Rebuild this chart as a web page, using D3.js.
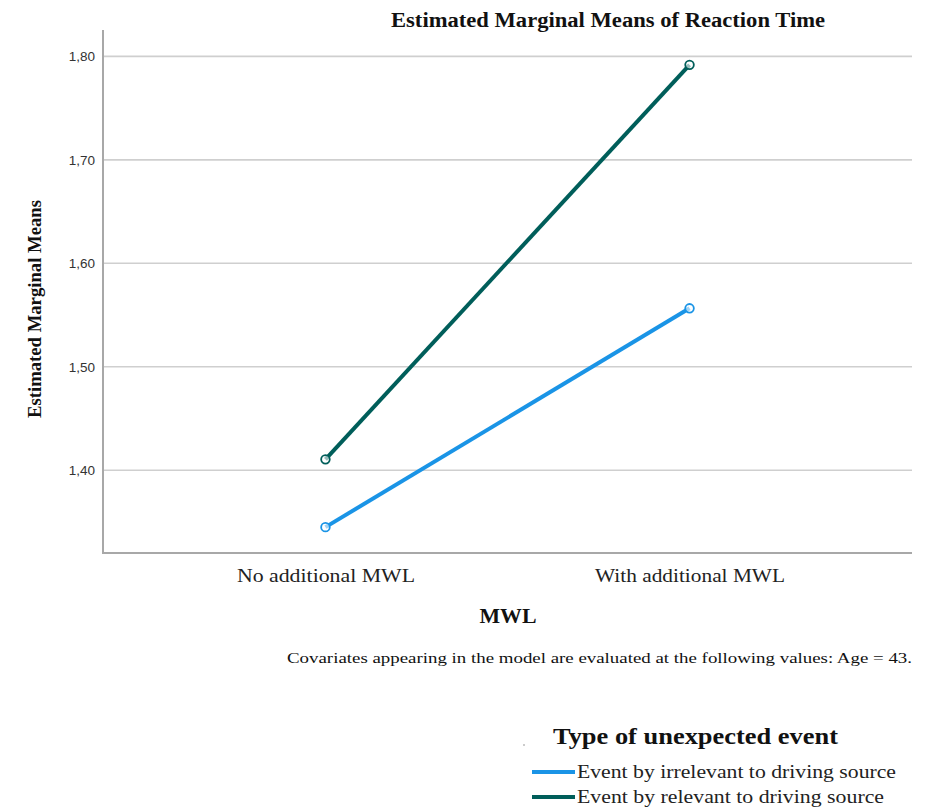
<!DOCTYPE html>
<html>
<head>
<meta charset="utf-8">
<script src="https://cdn.jsdelivr.net/npm/d3@7"></script>
<style>
  html, body { margin: 0; padding: 0; background: #fff; }
  svg { display: block; }
</style>
</head>
<body>
<svg id="chart" width="933" height="808"></svg>
<script>
const categories = ["No additional MWL", "With additional MWL"];
const seriesNames = ["Event by irrelevant to driving source", "Event by relevant to driving source"];
const irrelevantValues = [1.345, 1.5565];
const relevantValues = [1.4105, 1.7918];
const yTicks = [1.40, 1.50, 1.60, 1.70, 1.80];
const seriesColors = ["#1a94e6", "#005e5a"];

(function () {
const series = [
  { name: seriesNames[0], values: irrelevantValues, color: seriesColors[0] },
  { name: seriesNames[1], values: relevantValues, color: seriesColors[1] }
];

const svg = d3.select("#chart");
const pLeft = 103, pRight = 912, pTop = 30, pBottom = 553;
const serif = "Liberation Serif, Times New Roman, serif";

const x = d3.scalePoint().domain(categories).range([pLeft, pRight]).padding(0.611);
const y = d3.scaleLinear().domain([1.32, 1.8255]).range([pBottom, pTop]);

// gridlines
svg.append("g").selectAll("line").data(yTicks).join("line")
  .attr("x1", pLeft).attr("x2", pRight)
  .attr("y1", d => y(d)).attr("y2", d => y(d))
  .attr("stroke", "#cfcfcf").attr("stroke-width", 1.6);

// y axis
const yAxis = d3.axisLeft(y).tickValues(yTicks).tickSize(0).tickPadding(8)
  .tickFormat(d => d3.format(".2f")(d).replace(".", ","));
const gy = svg.append("g").attr("transform", `translate(${pLeft},0)`).call(yAxis);
gy.select(".domain").remove();
gy.selectAll("text").attr("font-family", "Liberation Sans, Arial, sans-serif")
  .attr("font-size", 13.5).attr("fill", "#333");

// x axis
const xLabelWidths = [178, 190];
const xAxis = d3.axisBottom(x).tickSize(0).tickPadding(16);
const gx = svg.append("g").attr("transform", `translate(0,${pBottom})`).call(xAxis);
gx.select(".domain").remove();
gx.selectAll("text").attr("font-family", serif)
  .attr("font-size", 18.5).attr("fill", "#222")
  .attr("textLength", (d, i) => xLabelWidths[i]).attr("lengthAdjust", "spacingAndGlyphs");

// axis lines
svg.append("line").attr("x1", pLeft).attr("x2", pLeft).attr("y1", pTop).attr("y2", pBottom)
  .attr("stroke", "#a8a8a8").attr("stroke-width", 2);
svg.append("line").attr("x1", pLeft - 1).attr("x2", pRight).attr("y1", pBottom).attr("y2", pBottom)
  .attr("stroke", "#a8a8a8").attr("stroke-width", 2);

// lines
const line = d3.line().x((d, i) => x(categories[i])).y(d => y(d));
svg.append("g").selectAll("path").data(series).join("path")
  .attr("d", d => line(d.values))
  .attr("fill", "none").attr("stroke", d => d.color).attr("stroke-width", 4);

// markers
series.forEach(s => {
  svg.append("g").selectAll("circle").data(s.values).join("circle")
    .attr("cx", (d, i) => x(categories[i])).attr("cy", d => y(d))
    .attr("r", 4.3).attr("fill", "#fff").attr("fill-opacity", 0.6)
    .attr("stroke", s.color).attr("stroke-width", 1.8);
});

// title
svg.append("text").attr("x", 608).attr("y", 27).attr("text-anchor", "middle")
  .attr("font-family", serif).attr("font-weight", "bold")
  .attr("font-size", 20).attr("fill", "#111")
  .attr("textLength", 434).attr("lengthAdjust", "spacingAndGlyphs")
  .text("Estimated Marginal Means of Reaction Time");

// y axis title
svg.append("text").attr("transform", "translate(41,309) rotate(-90)").attr("text-anchor", "middle")
  .attr("font-family", serif).attr("font-weight", "bold")
  .attr("font-size", 19).attr("fill", "#111")
  .attr("textLength", 218).attr("lengthAdjust", "spacingAndGlyphs")
  .text("Estimated Marginal Means");

// x axis title
svg.append("text").attr("x", 508).attr("y", 623).attr("text-anchor", "middle")
  .attr("font-family", serif).attr("font-weight", "bold")
  .attr("font-size", 20).attr("fill", "#111")
  .attr("textLength", 57).attr("lengthAdjust", "spacingAndGlyphs")
  .text("MWL");

// covariates note
svg.append("text").attr("x", 287).attr("y", 663)
  .attr("font-family", serif)
  .attr("font-size", 15).attr("fill", "#111")
  .attr("textLength", 625).attr("lengthAdjust", "spacingAndGlyphs")
  .text("Covariates appearing in the model are evaluated at the following values: Age = 43.");

// legend
svg.append("circle").attr("cx", 524).attr("cy", 745).attr("r", 1).attr("fill", "#bbb");
svg.append("text").attr("x", 553).attr("y", 744)
  .attr("font-family", serif).attr("font-weight", "bold")
  .attr("font-size", 23).attr("fill", "#111")
  .attr("textLength", 285).attr("lengthAdjust", "spacingAndGlyphs")
  .text("Type of unexpected event");

const legendWidths = [319, 307];
const lg = svg.append("g").selectAll("g").data(series).join("g")
  .attr("transform", (d, i) => `translate(532,${772 + i * 25})`);
lg.append("line").attr("x1", 0).attr("x2", 43).attr("y1", 0).attr("y2", 0)
  .attr("stroke", d => d.color).attr("stroke-width", 4);
lg.append("text").attr("x", 45).attr("y", 6)
  .attr("font-family", serif)
  .attr("font-size", 18.5).attr("fill", "#222")
  .attr("textLength", (d, i) => legendWidths[i]).attr("lengthAdjust", "spacingAndGlyphs")
  .text(d => d.name);
})();
</script>
</body>
</html>
